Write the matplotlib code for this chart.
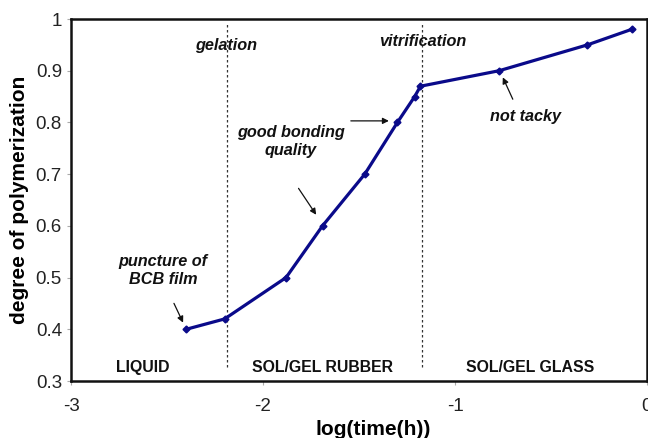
import matplotlib
matplotlib.use("Agg")
import matplotlib.pyplot as plt

plt.rcParams['font.family'] = ['Liberation Sans', 'DejaVu Sans']

log_time = [-2.40, -2.20, -1.88, -1.69, -1.47, -1.30, -1.21, -1.18, -0.77, -0.31, -0.08]
degree = [0.40, 0.42, 0.50, 0.60, 0.70, 0.80, 0.85, 0.87, 0.90, 0.95, 0.98]

gelation_x = -2.19
vitrification_x = -1.17

x_ticks = [-3, -2, -1, 0]
y_ticks = [0.3, 0.4, 0.5, 0.6, 0.7, 0.8, 0.9, 1.0]
y_ticklabels = ['0.3', '0.4', '0.5', '0.6', '0.7', '0.8', '0.9', '1']

fig = plt.figure(figsize=(6.48, 4.38), dpi=100)
ax = fig.add_axes([71/648, 1-381/438, 576/648, 362/438])

ax.plot(log_time, degree, color='#0a0a8a', lw=2.3, marker='D', ms=3.5, zorder=3)

for xv in (gelation_x, vitrification_x):
    ax.plot([xv, xv], [0.327, 0.99], color='#333333', lw=0.9, ls=(0, (2, 2)), zorder=2)

ax.set_xlim(-3, 0)
ax.set_ylim(0.3, 1.0)
ax.set_xticks(x_ticks)
ax.set_xticklabels([str(t) for t in x_ticks])
ax.set_yticks(y_ticks)
ax.set_yticklabels(y_ticklabels)
ax.tick_params(axis='both', labelsize=13.5, length=3, width=0.8, direction='out')
ax.tick_params(axis='x', pad=9, colors='#aaaaaa', labelcolor='#222222')
ax.tick_params(axis='y', colors='#aaaaaa', labelcolor='#222222')
for s in ax.spines.values():
    s.set_linewidth(1.8)
    s.set_color('#111111')

ax.set_xlabel('log(time(h))', fontsize=15, fontweight='bold')
ax.xaxis.set_label_coords((373-71)/576, -0.108)
ax.set_ylabel('degree of polymerization', fontsize=15, fontweight='bold', labelpad=5)

ann = dict(fontsize=11.7, fontweight='bold', fontstyle='italic', ha='center', va='center', color='#111111')
ax.text(-2.19, 0.948, 'gelation', **ann)
ax.text(-1.17, 0.956, 'vitrification', **ann)
ax.text(-2.52, 0.513, 'puncture of\nBCB film', linespacing=1.25, **ann)
ax.text(-1.854, 0.764, 'good bonding\nquality', linespacing=1.25, **ann)
ax.text(-0.635, 0.811, 'not tacky', **ann)

arr = dict(arrowstyle='-|>', color='#111111', lw=0.9, mutation_scale=9)
ax.annotate('', xy=(-2.41, 0.408), xytext=(-2.47, 0.455), arrowprops=arr)
ax.annotate('', xy=(-1.33, 0.803), xytext=(-1.557, 0.803), arrowprops=arr)
ax.annotate('', xy=(-1.715, 0.617), xytext=(-1.823, 0.677), arrowprops=arr)
ax.annotate('', xy=(-0.757, 0.892), xytext=(-0.693, 0.84), arrowprops=arr)

reg = dict(fontsize=11.4, fontweight='bold', ha='center', va='center', color='#111111')
ax.text(-2.625, 0.327, 'LIQUID', **reg)
ax.text(-1.6875, 0.327, 'SOL/GEL RUBBER', **reg)
ax.text(-0.609, 0.327, 'SOL/GEL GLASS', **reg)

fig.savefig('out.png', dpi=100)
